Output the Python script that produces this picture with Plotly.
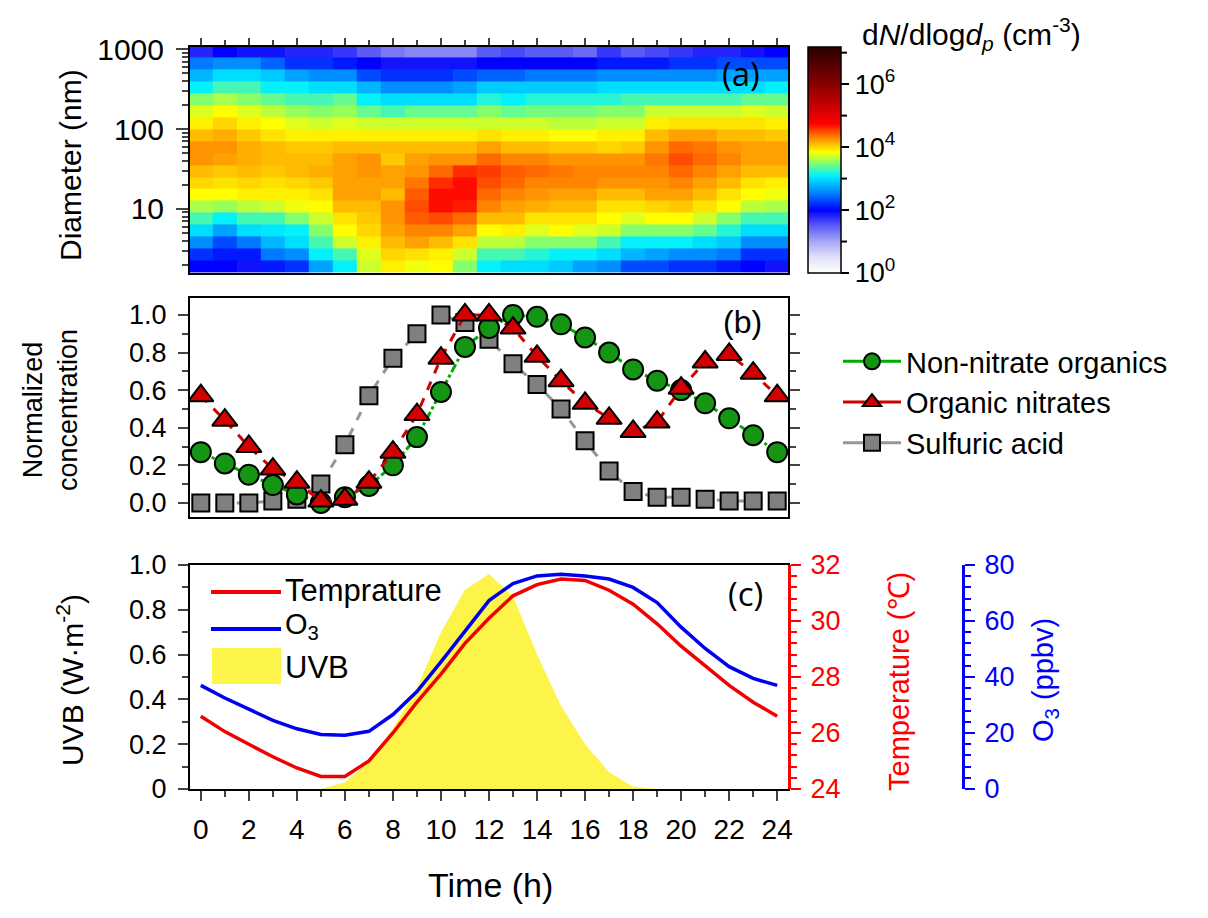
import plotly.graph_objects as go

# ---------------- data ----------------
hours = list(range(25))

# Panel (a): log10(dN/dlogdp) per hour, listed from top size bin (largest) to bottom (smallest)
dp_edges_log = [0.2 + 0.15 * i for i in range(20)]  # bin edges in log10(nm)
col_h0 = [1.8, 2.5, 2.8, 3.1, 3.5, 3.75, 3.9, 4.1, 4.25, 4.25, 4.1, 4.0, 3.85, 3.6, 3.3, 3.0, 2.6, 2.2, 2.0]
col_h1 = [2.0, 2.6, 3.0, 3.3, 3.6, 3.85, 4.0, 4.15, 4.25, 4.2, 4.05, 3.95, 3.85, 3.55, 3.1, 2.7, 2.3, 2.1, 2.0]
col_h2 = [1.9, 2.6, 3.0, 3.3, 3.5, 3.75, 3.9, 4.05, 4.15, 4.15, 4.1, 4.0, 3.9, 3.65, 3.3, 3.0, 2.5, 2.1, 1.9]
col_h3 = [1.9, 2.4, 2.9, 3.1, 3.4, 3.65, 3.85, 3.95, 4.1, 4.1, 4.05, 3.95, 3.9, 3.7, 3.3, 3.05, 2.8, 2.5, 2.1]
col_h4 = [1.8, 2.2, 2.7, 3.1, 3.3, 3.55, 3.75, 3.9, 4.05, 4.1, 4.1, 4.0, 3.9, 3.8, 3.5, 3.1, 3.0, 2.6, 2.2]
col_h5 = [1.8, 2.2, 2.6, 3.0, 3.3, 3.5, 3.7, 3.9, 4.05, 4.1, 4.15, 4.05, 3.95, 3.85, 3.7, 3.5, 3.3, 3.1, 2.7]
col_h6 = [1.7, 2.1, 2.6, 3.0, 3.4, 3.55, 3.75, 3.9, 4.1, 4.2, 4.2, 4.2, 4.2, 4.1, 3.95, 3.85, 3.7, 3.3, 3.1]
col_h7 = [1.5, 2.0, 2.3, 2.8, 3.1, 3.4, 3.7, 3.9, 4.1, 4.25, 4.25, 4.2, 4.2, 4.1, 4.05, 4.0, 3.9, 3.75, 3.7]
col_h8 = [1.3, 1.9, 2.2, 2.6, 3.0, 3.3, 3.7, 3.9, 4.1, 4.05, 4.2, 4.2, 4.1, 4.25, 4.25, 4.2, 4.1, 4.0, 3.9]
col_h9 = [1.2, 1.9, 2.2, 2.6, 3.0, 3.4, 3.7, 3.9, 4.1, 4.2, 4.25, 4.35, 4.45, 4.5, 4.45, 4.3, 4.2, 3.95, 3.8]
col_h10 = [1.2, 1.9, 2.2, 2.6, 3.0, 3.4, 3.7, 3.9, 4.1, 4.25, 4.4, 4.6, 4.7, 4.7, 4.5, 4.3, 4.1, 3.9, 3.85]
col_h11 = [1.2, 1.9, 2.3, 2.7, 3.0, 3.4, 3.7, 3.9, 4.1, 4.25, 4.6, 4.7, 4.7, 4.65, 4.4, 4.2, 3.95, 3.7, 3.5]
col_h12 = [1.5, 2.0, 2.4, 2.9, 3.2, 3.5, 3.7, 3.95, 4.2, 4.4, 4.55, 4.5, 4.4, 4.3, 4.1, 3.85, 3.65, 3.3, 3.1]
col_h13 = [1.6, 2.0, 2.4, 2.9, 3.1, 3.4, 3.7, 3.9, 4.1, 4.3, 4.45, 4.4, 4.3, 4.2, 4.1, 3.9, 3.65, 3.3, 3.0]
col_h14 = [1.5, 2.0, 2.5, 2.9, 3.2, 3.45, 3.7, 3.9, 4.1, 4.3, 4.4, 4.3, 4.25, 4.15, 3.95, 3.75, 3.5, 3.2, 3.0]
col_h15 = [1.5, 2.0, 2.5, 2.9, 3.2, 3.45, 3.65, 3.85, 4.05, 4.25, 4.35, 4.3, 4.2, 4.1, 3.95, 3.85, 3.5, 3.1, 2.9]
col_h16 = [1.4, 2.0, 2.5, 2.9, 3.2, 3.45, 3.65, 3.85, 4.05, 4.25, 4.3, 4.3, 4.2, 4.1, 3.95, 3.75, 3.5, 3.1, 2.7]
col_h17 = [1.7, 2.1, 2.6, 3.0, 3.2, 3.5, 3.7, 3.9, 4.0, 4.25, 4.3, 4.25, 4.1, 3.95, 3.85, 3.7, 3.3, 3.0, 2.6]
col_h18 = [1.5, 2.1, 2.6, 3.0, 3.3, 3.5, 3.7, 3.9, 4.05, 4.25, 4.3, 4.25, 4.1, 3.95, 3.75, 3.5, 3.1, 2.8, 2.3]
col_h19 = [1.6, 2.1, 2.6, 3.0, 3.3, 3.7, 3.9, 4.1, 4.25, 4.35, 4.3, 4.25, 4.2, 4.0, 3.85, 3.5, 3.1, 2.7, 2.3]
col_h20 = [1.7, 2.2, 2.6, 3.0, 3.3, 3.7, 3.95, 4.2, 4.4, 4.5, 4.4, 4.3, 4.2, 4.05, 3.85, 3.5, 3.1, 2.6, 2.2]
col_h21 = [1.8, 2.2, 2.6, 3.0, 3.3, 3.7, 3.95, 4.2, 4.35, 4.4, 4.3, 4.2, 4.1, 3.95, 3.7, 3.4, 3.0, 2.6, 2.2]
col_h22 = [1.8, 2.3, 2.7, 3.0, 3.3, 3.7, 3.95, 4.1, 4.25, 4.3, 4.2, 4.1, 3.95, 3.85, 3.5, 3.2, 2.9, 2.5, 2.1]
col_h23 = [1.9, 2.3, 2.7, 3.0, 3.4, 3.75, 3.95, 4.1, 4.2, 4.2, 4.1, 3.95, 3.85, 3.65, 3.3, 3.0, 2.6, 2.2, 2.0]
col_h24 = [2.0, 2.3, 2.7, 3.1, 3.4, 3.7, 3.9, 4.05, 4.2, 4.2, 4.1, 3.9, 3.8, 3.6, 3.3, 3.0, 2.6, 2.2, 1.9]
columns = [col_h0, col_h1, col_h2, col_h3, col_h4, col_h5, col_h6, col_h7, col_h8, col_h9,
           col_h10, col_h11, col_h12, col_h13, col_h14, col_h15, col_h16, col_h17, col_h18,
           col_h19, col_h20, col_h21, col_h22, col_h23, col_h24]
cbar_tickvals = [0, 2, 4, 6]
cbar_ticktext = ["10<sup>0</sup>", "10<sup>2</sup>", "10<sup>4</sup>", "10<sup>6</sup>"]
cbar_minor = [1, 3, 5, 7]

# Panel (b): normalized concentrations
non_nitrate = [0.27, 0.21, 0.15, 0.095, 0.045, 0.0, 0.03, 0.09, 0.20, 0.35, 0.59, 0.83, 0.93,
               1.0, 0.99, 0.95, 0.88, 0.80, 0.71, 0.65, 0.60, 0.53, 0.45, 0.36, 0.27]
org_nitrates = [0.57, 0.44, 0.30, 0.18, 0.11, 0.01, 0.02, 0.11, 0.27, 0.47, 0.77, 1.0, 1.0,
                0.93, 0.78, 0.65, 0.53, 0.45, 0.38, 0.43, 0.61, 0.75, 0.79, 0.69, 0.57]
sulfuric = [0.0, 0.0, 0.0, 0.01, 0.02, 0.10, 0.31, 0.57, 0.77, 0.90, 1.0, 0.96, 0.87, 0.74,
            0.63, 0.50, 0.33, 0.17, 0.06, 0.03, 0.03, 0.02, 0.01, 0.01, 0.01]

# Panel (c)
temperature = [26.6, 26.05, 25.6, 25.15, 24.75, 24.45, 24.45, 25.0, 26.0, 27.1, 28.1, 29.2, 30.1,
               30.9, 31.3, 31.5, 31.45, 31.1, 30.6, 29.9, 29.1, 28.4, 27.7, 27.1, 26.6]
o3 = [37.0, 32.5, 28.5, 24.5, 21.5, 19.5, 19.2, 20.6, 26.6, 34.8, 45.4, 56.6, 67.3, 73.4, 76.1,
      76.7, 76.1, 75.0, 72.0, 66.6, 57.8, 50.2, 43.7, 39.5, 37.0]
uvb = [0, 0, 0, 0, 0, 0, 0.03, 0.12, 0.27, 0.45, 0.70, 0.89, 0.96, 0.86, 0.60, 0.37, 0.20,
       0.075, 0.01, 0, 0, 0, 0, 0, 0]

# ---------------- build ----------------
W, H = 1208, 918
def px(x):
    return x / W
def py(y):
    return 1 - y / H

FONT = "Liberation Sans, Arial, sans-serif"
n_rows = len(col_h0)
z = [[columns[c][n_rows - 1 - r] for c in range(len(columns))] for r in range(n_rows)]
dp_edges = [10 ** e for e in dp_edges_log]
ZMAX = 7.18
CB_TOP, CB_BOT = 47, 273

colorscale = [
    [0.0, "rgb(255,255,255)"],
    [0.07, "rgb(225,225,250)"],
    [0.14, "rgb(165,165,245)"],
    [0.21, "rgb(90,90,245)"],
    [0.278, "rgb(0,0,255)"],
    [0.347, "rgb(0,120,255)"],
    [0.43, "rgb(0,240,255)"],
    [0.49, "rgb(140,255,100)"],
    [0.535, "rgb(255,255,0)"],
    [0.583, "rgb(255,165,0)"],
    [0.625, "rgb(255,80,0)"],
    [0.66, "rgb(255,0,0)"],
    [0.83, "rgb(140,0,0)"],
    [1.0, "rgb(40,0,0)"],
]

TICK = 27
fig = go.Figure()

fig.add_trace(go.Heatmap(
    x=hours, y=dp_edges, z=z, zmin=0, zmax=ZMAX, colorscale=colorscale,
    xaxis="x", yaxis="y", zsmooth=False,
    colorbar=dict(
        x=px(808), xanchor="left", y=py(CB_TOP), yanchor="top", len=(CB_BOT - CB_TOP) / H, lenmode="fraction",
        thickness=33, xpad=0, ypad=0, outlinewidth=1.5, outlinecolor="black",
        tickmode="array", tickvals=cbar_tickvals, ticktext=cbar_ticktext,
        ticks="outside", ticklen=8, tickwidth=2, tickcolor="black",
        tickfont=dict(family=FONT, size=TICK, color="black"),
    ),
    showscale=True,
))

# Panel (b)
line_w = 3
fig.add_trace(go.Scatter(
    x=hours, y=sulfuric, mode="lines+markers", xaxis="x2", yaxis="y2", showlegend=False,
    line=dict(color="rgb(150,150,150)", width=line_w, dash="dash"),
    marker=dict(symbol="square", size=17, color="rgb(128,128,128)", line=dict(color="black", width=2)),
))
fig.add_trace(go.Scatter(
    x=hours, y=non_nitrate, mode="lines+markers", xaxis="x2", yaxis="y2", showlegend=False,
    line=dict(color="rgb(0,170,0)", width=line_w, dash="dashdot"),
    marker=dict(symbol="circle", size=20, color="rgb(20,150,20)", line=dict(color="black", width=2)),
))
fig.add_trace(go.Scatter(
    x=hours, y=org_nitrates, mode="lines+markers", xaxis="x2", yaxis="y2", showlegend=False,
    line=dict(color="rgb(210,0,0)", width=line_w, dash="dash"),
    marker=dict(symbol="triangle-up", size=22, color="rgb(210,0,0)", line=dict(color="black", width=2)),
))
# legend entries for panel (b)
for name, col, mcol, sym in [
    ("Non-nitrate organics", "rgb(0,170,0)", "rgb(20,150,20)", "circle"),
    ("Organic nitrates", "rgb(210,0,0)", "rgb(210,0,0)", "triangle-up"),
    ("Sulfuric acid", "rgb(150,150,150)", "rgb(128,128,128)", "square"),
]:
    fig.add_trace(go.Scatter(
        x=[None], y=[None], mode="lines+markers", name=name, xaxis="x2", yaxis="y2",
        legend="legend", line=dict(color=col, width=3),
        marker=dict(symbol=sym, size=16, color=mcol, line=dict(color="black", width=2)),
    ))

# Panel (c)
fig.add_trace(go.Scatter(
    x=hours, y=uvb, mode="lines", fill="tozeroy", xaxis="x3", yaxis="y3", showlegend=False,
    line=dict(width=0, color="rgba(0,0,0,0)"), fillcolor="rgb(252,244,72)", name="UVB",
))
fig.add_trace(go.Scatter(
    x=hours, y=temperature, mode="lines", xaxis="x3", yaxis="y4", showlegend=False,
    line=dict(color="rgb(240,0,0)", width=3.5), name="Temprature",
))
fig.add_trace(go.Scatter(
    x=hours, y=o3, mode="lines", xaxis="x3", yaxis="y5", showlegend=False,
    line=dict(color="rgb(0,0,240)", width=3.5), name="O3",
))

xdom = [px(190), px(788)]
xr = [-0.45, 24.45]
tickfont = dict(family=FONT, size=TICK, color="black")
common_line = dict(showline=True, linecolor="black", linewidth=2, showgrid=False, zeroline=False)

fig.update_layout(
    width=W, height=H, margin=dict(l=0, r=0, t=0, b=0, autoexpand=False),
    paper_bgcolor="white", plot_bgcolor="white",
    font=dict(family=FONT, color="black"),
    xaxis=dict(domain=xdom, range=xr, anchor="y", side="top", mirror=True, showticklabels=False,
               tickmode="array", tickvals=list(range(0, 25, 2)), ticks="outside", ticklen=7, tickwidth=2,
               minor=dict(tickmode="linear", tick0=0, dtick=1, ticks="outside", ticklen=5, tickwidth=2),
               **common_line),
    yaxis=dict(domain=[py(273), py(47)], type="log", range=[0.195, 3.03], anchor="x", mirror=True,
               tickmode="array", tickvals=[10, 100, 1000], ticktext=["10", "100", "1000"],
               ticks="outside", ticklen=12, tickwidth=2, tickfont=dict(family=FONT, size=30, color="black"),
               ticklabelstandoff=6,
               minor=dict(tickmode="array",
                          tickvals=[2, 3, 4, 5, 6, 7, 8, 9, 20, 30, 40, 50, 60, 70, 80, 90,
                                    200, 300, 400, 500, 600, 700, 800, 900],
                          ticks="outside", ticklen=6, tickwidth=1.5),
               **common_line),
    xaxis2=dict(domain=xdom, range=xr, anchor="y2", mirror=True, showticklabels=False, ticks="",
                **common_line),
    yaxis2=dict(domain=[py(517), py(298)], range=[-0.075, 1.09], anchor="x2", mirror="ticks",
                tickmode="array", tickvals=[0, 0.2, 0.4, 0.6, 0.8, 1.0],
                ticktext=["0.0", "0.2", "0.4", "0.6", "0.8", "1.0"],
                ticks="outside", ticklen=10, tickwidth=2, tickfont=tickfont, ticklabelstandoff=6,
                minor=dict(tickmode="linear", tick0=0, dtick=0.1, ticks="outside", ticklen=6, tickwidth=2),
                **common_line),
    xaxis3=dict(domain=xdom, range=xr, anchor="y3", mirror=True,
                tickmode="array", tickvals=list(range(0, 25, 2)), ticks="outside", ticklen=10, tickwidth=2,
                tickfont=dict(family=FONT, size=28, color="black"), ticklabelstandoff=4,
                minor=dict(tickmode="linear", tick0=0, dtick=1, ticks="outside", ticklen=6, tickwidth=2),
                **common_line),
    yaxis3=dict(domain=[py(789), py(565)], range=[0, 1.0], anchor="x3", mirror=True,
                tickmode="array", tickvals=[0, 0.2, 0.4, 0.6, 0.8, 1.0],
                ticktext=["0", "0.2", "0.4", "0.6", "0.8", "1.0"],
                ticks="outside", ticklen=10, tickwidth=2, tickfont=tickfont, ticklabelstandoff=6,
                minor=dict(tickmode="linear", tick0=0, dtick=0.1, ticks="outside", ticklen=6, tickwidth=2),
                **common_line),
    yaxis4=dict(overlaying="y3", anchor="x3", side="right", range=[24, 32],
                tickmode="linear", tick0=24, dtick=2, ticks="outside", ticklen=10, tickwidth=2,
                tickcolor="red", tickfont=dict(family=FONT, size=TICK, color="red"), ticklabelstandoff=4,
                minor=dict(tickmode="linear", tick0=24, dtick=0.4, ticks="outside", ticklen=6,
                           tickwidth=2, tickcolor="red"),
                showline=True, linecolor="red", linewidth=3, showgrid=False, zeroline=False),
    yaxis5=dict(overlaying="y3", anchor="free", position=px(963), side="right", range=[0, 80],
                tickmode="linear", tick0=0, dtick=20, ticks="outside", ticklen=10, tickwidth=2,
                tickcolor="blue", tickfont=dict(family=FONT, size=TICK, color="blue"), ticklabelstandoff=4,
                minor=dict(tickmode="linear", tick0=0, dtick=4, ticks="outside", ticklen=6,
                           tickwidth=2, tickcolor="blue"),
                showline=True, linecolor="blue", linewidth=3, showgrid=False, zeroline=False),
    legend=dict(x=px(838), y=py(336), xanchor="left", yanchor="top", bgcolor="rgba(0,0,0,0)",
                font=dict(family=FONT, size=29, color="black"), itemwidth=58, tracegroupgap=0),
    showlegend=True,
)

ann = []
def text(x, y, s, size=26, color="black", angle=0, xanchor="center", yanchor="middle", family=FONT):
    ann.append(dict(x=px(x), y=py(y), xref="paper", yref="paper", text=s, showarrow=False,
                    textangle=angle, xanchor=xanchor, yanchor=yanchor,
                    font=dict(family=family, size=size, color=color)))

PFONT = "Open Sans, Liberation Sans, sans-serif"
text(741, 73, "(a)", size=33, family=PFONT)
text(742, 322, "(b)", size=32, family=FONT)
text(745, 593, "(c)", size=33, family=PFONT)
text(70, 165, "Diameter (nm)", size=30, angle=-90)
text(50, 410, "Normalized<br>concentration", size=27, angle=-90)
text(70, 680, "UVB (W·m<sup>-2</sup>)", size=30, angle=-90)
text(490, 885, "Time (h)", size=34)
text(899, 682, "Temperature (℃)", size=29, color="red", angle=-90)
text(1045, 680, "O<sub>3</sub> (ppbv)", size=29, color="blue", angle=-90)
text(860, 34, "d<i>N</i>/dlog<i>d</i><sub><i>p</i></sub> (cm<sup>-3</sup>)", size=30, xanchor="left")

# legend for panel (c)
text(283, 590, "Temprature", size=31, xanchor="left")
text(283, 626, "O<sub>3</sub>", size=29, xanchor="left")
text(283, 667, "UVB", size=31, xanchor="left")
shapes = [
    dict(type="line", xref="paper", yref="paper", x0=px(211), x1=px(281), y0=py(592), y1=py(592),
         line=dict(color="rgb(240,0,0)", width=4)),
    dict(type="line", xref="paper", yref="paper", x0=px(211), x1=px(281), y0=py(629), y1=py(629),
         line=dict(color="rgb(0,0,240)", width=4)),
    dict(type="rect", xref="paper", yref="paper", x0=px(212), x1=px(281), y0=py(684), y1=py(648),
         line=dict(width=0), fillcolor="rgb(252,244,72)"),
]
# colorbar minor ticks (odd decades)
cb_right = 808 + 33
for v in cbar_minor:
    yy = CB_BOT - v / ZMAX * (CB_BOT - CB_TOP)
    shapes.append(dict(type="line", xref="paper", yref="paper", x0=px(cb_right), x1=px(cb_right + 6),
                       y0=py(yy), y1=py(yy), line=dict(color="black", width=2)))
fig.update_layout(annotations=ann, shapes=shapes)

fig.write_html("out.html")
